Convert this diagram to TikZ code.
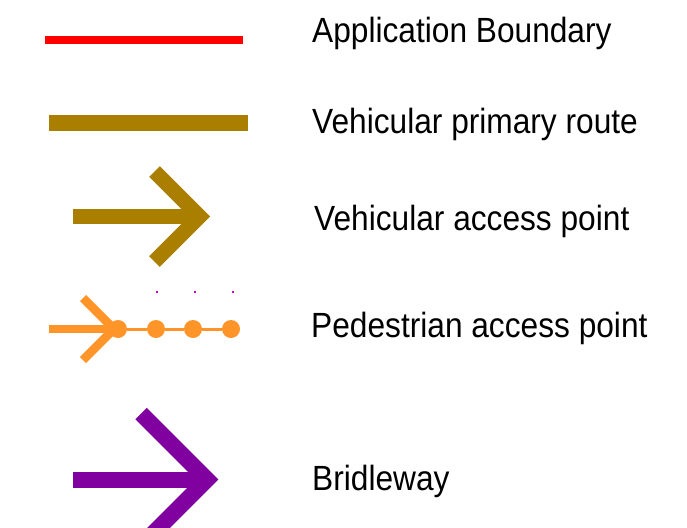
\documentclass[tikz,border=0pt]{standalone}
\usepackage{fontspec}
\usepackage{tikz}
\usetikzlibrary{positioning}
\newfontfamily\legendfont[FakeStretch=0.905]{Liberation Sans}
\definecolor{boundaryred}{RGB}{255,0,0}
\definecolor{vehiclebrown}{RGB}{170,127,0}
\definecolor{walkorange}{RGB}{255,148,40}
\definecolor{bridlepurple}{RGB}{128,0,160}
\definecolor{dotmagenta}{RGB}{204,0,204}
\tikzstyle{legendtext} = [anchor=base west, inner sep=0pt, font=\legendfont\fontsize{35}{42}\selectfont]
\tikzstyle{boundary} = [draw=boundaryred, line width=8pt]
\tikzstyle{vehroute} = [draw=vehiclebrown, line width=16pt]
\tikzstyle{vehaccess} = [draw=vehiclebrown, line width=15pt, miter limit=4]
\tikzstyle{pedaccess} = [draw=walkorange, line width=8.5pt, miter limit=4]
\tikzstyle{pedlink} = [draw=walkorange, line width=3pt]
\tikzstyle{peddot} = [circle, fill=walkorange, minimum size=18pt, inner sep=0pt]
\tikzstyle{bridle} = [draw=bridlepurple, line width=16pt, miter limit=4]

\begin{document}
\begin{tikzpicture}[x=1pt, y=-1pt]
            \clip (0,0) rectangle (687,527);
            \useasboundingbox (0,0) rectangle (687,527);

            % labels
            \node[legendtext] (lbl_boundary) at (312,43) {Application Boundary};
            \node[legendtext] (lbl_route) at (312,133) {Vehicular primary route};
            \node[legendtext] (lbl_vaccess) at (314,230) {Vehicular access point};
            \node[legendtext] (lbl_paccess) at (311,337) {Pedestrian access point};
            \node[legendtext] (lbl_bridle) at (312,490) {Bridleway};

            % application boundary
            \coordinate (bnd_start) at (45,40);
            \coordinate (bnd_end) at (243,40);
            \draw[boundary] (bnd_start) -- (bnd_end);

            % vehicular primary route
            \coordinate (route_start) at (49,123);
            \coordinate (route_end) at (248,123);
            \draw[vehroute] (route_start) -- (route_end);

            % vehicular access point
            \coordinate (va_tail) at (73,216.5);
            \coordinate (va_tip) at (199.5,216.5);
            \coordinate (va_up) at (154.5,171.5);
            \coordinate (va_down) at (154.5,261.5);
            \draw[vehaccess] (va_tail) -- (va_tip);
            \draw[vehaccess] (va_up) -- (va_tip) -- (va_down);

            % pedestrian access point
            \coordinate (pa_tail) at (49,329);
            \coordinate (pa_tip) at (114,329);
            \coordinate (pa_up) at (83,298);
            \coordinate (pa_down) at (83,360);
            \draw[pedaccess] (pa_tail) -- (pa_tip);
            \draw[pedaccess] (pa_up) -- (pa_tip) -- (pa_down);
            \node[peddot] (dot_a) at (118,329) {};
            \node[peddot] (dot_b) at (156,329) {};
            \node[peddot] (dot_c) at (193,329) {};
            \node[peddot] (dot_d) at (231,329) {};
            \draw[pedlink] (dot_a) -- (dot_b);
            \draw[pedlink] (dot_b) -- (dot_c);
            \draw[pedlink] (dot_c) -- (dot_d);
            \foreach \x in {157,195,233}
                \fill[dotmagenta] (\x-1,291) rectangle (\x+1,293);

            % bridleway
            \coordinate (br_tail) at (73,479.5);
            \coordinate (br_tip) at (207,479.5);
            \coordinate (br_up) at (141,413.5);
            \coordinate (br_down) at (141,545.5);
            \draw[bridle] (br_tail) -- (br_tip);
            \draw[bridle] (br_up) -- (br_tip) -- (br_down);
        \end{tikzpicture}
\end{document}
